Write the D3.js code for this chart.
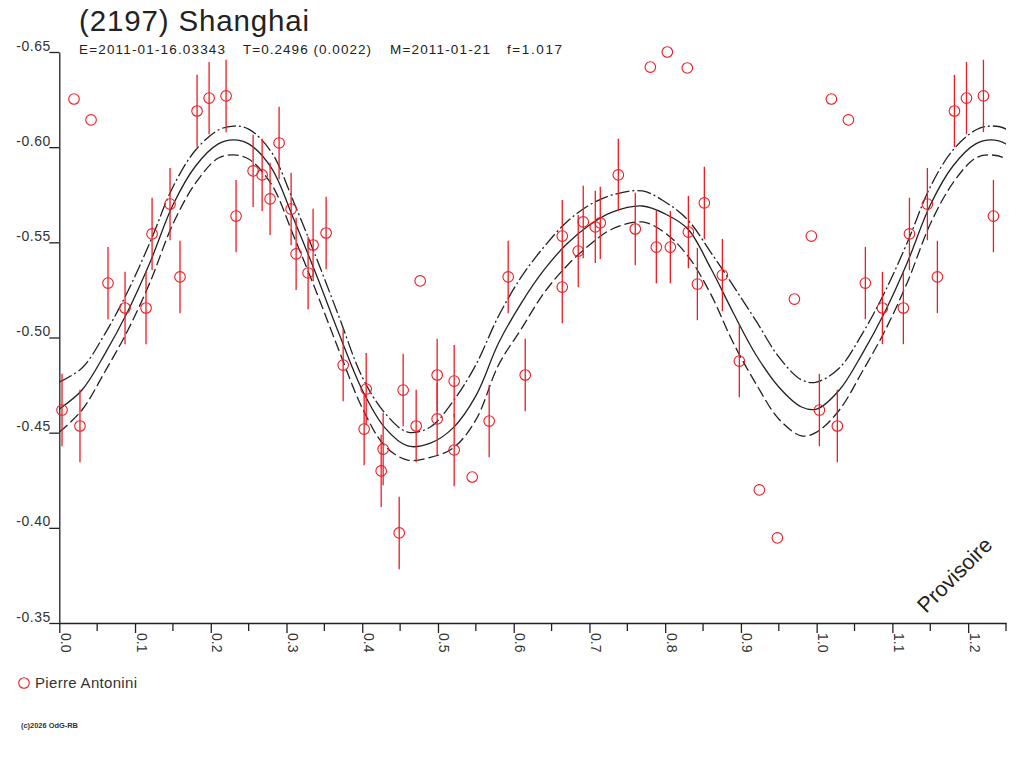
<!DOCTYPE html>
<html>
<head>
<meta charset="utf-8">
<title>(2197) Shanghai</title>
<script src="https://d3js.org/d3.v7.min.js"></script>
<style>
  body { margin: 0; background: #fff; }
  svg { display: block; font-family: "Liberation Sans", Arial, sans-serif; }
</style>
</head>
<body>
<div id="chart"></div>
<script>
// --- data: folded lightcurve (phase, relative magnitude, error) ---
const phase = [0.0036,0.0194,0.0273,0.0419,0.0643,0.0868,0.1145,0.1225,0.1462,0.1594,
  0.1819,0.1978,0.2202,0.2334,0.2559,0.2678,0.2783,0.2902,0.3061,0.3127,
  0.3285,0.3351,0.3523,0.3748,0.4052,0.4025,0.4276,0.4250,0.4488,0.4540,
  0.4712,0.4765,0.4989,0.4989,0.5214,0.5214,0.5452,0.5676,0.5927,0.6152,
  0.6641,0.6641,0.6852,0.6918,0.7077,0.7143,0.7381,0.7605,0.7804,0.8028,
  0.8292,0.7883,0.8068,0.8306,0.8517,0.8425,0.8755,0.8979,0.9243,0.9481,
  0.9706,0.9930];
const mag = [-0.4619,-0.6253,-0.4535,-0.6143,-0.5286,-0.5155,-0.5155,-0.5544,-0.5701,-0.5318,
  -0.6190,-0.6258,-0.6269,-0.5638,-0.5875,-0.5854,-0.5728,-0.6022,-0.5675,-0.5439,
  -0.5339,-0.5486,-0.5549,-0.4855,-0.4729,-0.4519,-0.4414,-0.4299,-0.3973,-0.4724,
  -0.4535,-0.5297,-0.4803,-0.4572,-0.4771,-0.4409,-0.4267,-0.4561,-0.5318,-0.4803,
  -0.5533,-0.5265,-0.5454,-0.5607,-0.5581,-0.5602,-0.5854,-0.5570,-0.6421,-0.6500,
  -0.6416,-0.5475,-0.5475,-0.5554,-0.5707,-0.5281,-0.5328,-0.4876,-0.4199,-0.3947,
  -0.5202,-0.5533];
const err = [0.019,0,0.019,0,0.019,0.019,0.019,0.019,0.019,0.019,
  0.019,0.019,0.019,0.019,0.019,0.019,0.019,0.019,0.019,0.019,
  0.019,0.019,0.019,0.019,0.019,0.019,0.019,0.019,0.019,0.019,
  0.019,0,0.019,0.019,0.019,0.019,0,0.019,0.019,0.019,
  0.019,0.019,0.019,0.019,0.019,0.019,0.019,0.019,0,0,
  0,0.019,0.019,0.019,0.019,0.019,0.019,0.019,0,0,
  0,0];

// --- fitted curve and its two envelopes, read at these phases ---
const fitPhase = [0,0.03,0.06,0.09,0.12,0.15,0.18,0.21,0.23,0.25,0.28,0.31,0.34,0.37,0.40,0.43,0.46,0.49,
  0.52,0.55,0.58,0.61,0.64,0.67,0.70,0.73,0.77,0.80,0.83,0.86,0.89,0.92,0.95,0.98,1.00];
const fitMid = [-0.4624,-0.4724,-0.4913,-0.5134,-0.5397,-0.5696,-0.5901,-0.6017,-0.6038,-0.6017,
  -0.5891,-0.5617,-0.5323,-0.5013,-0.4724,-0.4525,-0.4430,-0.4445,-0.4525,-0.4693,
  -0.4971,-0.5181,-0.5355,-0.5491,-0.5591,-0.5659,-0.5691,-0.5649,-0.5570,-0.5365,
  -0.5129,-0.4908,-0.4740,-0.4635,-0.4624];
const fitHi = [-0.4766,-0.4840,-0.5018,-0.5239,-0.5502,-0.5791,-0.5985,-0.6090,-0.6111,-0.6095,
  -0.5975,-0.5707,-0.5412,-0.5102,-0.4792,-0.4603,-0.4503,-0.4530,-0.4665,-0.4856,
  -0.5113,-0.5318,-0.5476,-0.5607,-0.5696,-0.5749,-0.5770,-0.5712,-0.5617,-0.5449,
  -0.5271,-0.5087,-0.4898,-0.4777,-0.4766];
const fitLo = [-0.4503,-0.4619,-0.4819,-0.5034,-0.5292,-0.5596,-0.5812,-0.5943,-0.5959,-0.5938,
  -0.5806,-0.5528,-0.5234,-0.4924,-0.4630,-0.4430,-0.4356,-0.4370,-0.4419,-0.4567,
  -0.4856,-0.5045,-0.5234,-0.5376,-0.5486,-0.5570,-0.5607,-0.5549,-0.5428,-0.5229,
  -0.4971,-0.4756,-0.4572,-0.4483,-0.4503];

// --- ticks and texts ---
const yTicks = [-0.65,-0.60,-0.55,-0.50,-0.45,-0.40,-0.35];
const xMajor = [0.0,0.1,0.2,0.3,0.4,0.5,0.6,0.7,0.8,0.9,1.0,1.1,1.2];
const xMinor = [0.05,0.15,0.25,0.35,0.45,0.55,0.65,0.75,0.85,0.95,1.05,1.15,1.25];
const title = "(2197) Shanghai";
const headerParts = ["E=2011-01-16.03343", "T=0.2496 (0.0022)", "M=2011-01-21", "f=1.017"];
const observer = "Pierre Antonini";
const copyright = "(c)2026 OdG-RB";

const width = 1024, height = 768;
const red = "#ec1c24", ink = "#222";

const x = d3.scaleLinear().domain([0, 1.25]).range([59.3, 1006]);
const y = d3.scaleLinear().domain([-0.65, -0.35]).range([52, 623]);

const svg = d3.select("#chart").append("svg")
  .attr("width", width).attr("height", height);
svg.append("rect").attr("width", width).attr("height", height).attr("fill", "#fff");

// titre
svg.append("text")
  .attr("x", 79).attr("y", 31)
  .attr("font-size", 29.5).attr("fill", ink)
  .attr("textLength", 230).attr("lengthAdjust", "spacing")
  .text(title);

const headX = [79, 243, 390, 507], headW = [146, 128, 100, 55];
svg.selectAll(".head").data(headerParts).enter().append("text")
  .attr("class", "head")
  .attr("x", (d, i) => headX[i]).attr("y", 54)
  .attr("font-size", 13.5).attr("fill", ink)
  .attr("textLength", (d, i) => headW[i]).attr("lengthAdjust", "spacing")
  .text(d => d);

// axe Y
const gy = svg.append("g")
  .attr("transform", `translate(${x(0)},0)`)
  .call(d3.axisLeft(y).tickValues(yTicks).tickSize(10).tickSizeOuter(0)
    .tickFormat(d => d.toFixed(2)));
gy.select(".domain").attr("stroke", ink).attr("stroke-width", 1.3);
gy.selectAll(".tick line").attr("stroke", ink).attr("stroke-width", 1.3);
gy.selectAll(".tick text")
  .attr("x", -9).attr("y", -2).attr("dy", null)
  .attr("font-size", 14).attr("fill", "#333")
  .attr("textLength", 34).attr("lengthAdjust", "spacing")
  .attr("font-family", "Liberation Sans, Arial, sans-serif");

// axe X
const gx = svg.append("g")
  .attr("transform", `translate(0,${y(-0.35)})`)
  .call(d3.axisBottom(x).tickValues(xMajor).tickSize(10).tickSizeOuter(0)
    .tickFormat(d => d.toFixed(1)));
gx.select(".domain").attr("stroke", ink).attr("stroke-width", 1.3);
gx.selectAll(".tick line").attr("stroke", ink).attr("stroke-width", 1.3);
gx.selectAll(".tick text")
  .attr("x", 0).attr("y", 0).attr("dy", null)
  .attr("text-anchor", "start")
  .attr("transform", "translate(1,10) rotate(90)")
  .attr("font-size", 14).attr("fill", "#333")
  .attr("font-family", "Liberation Sans, Arial, sans-serif");

svg.append("g")
  .attr("transform", `translate(0,${y(-0.35)})`)
  .selectAll("line").data(xMinor).enter().append("line")
  .attr("x1", d => x(d)).attr("x2", d => x(d))
  .attr("y1", 0).attr("y2", 8)
  .attr("stroke", ink).attr("stroke-width", 1.3);

// courbes ajustées (répétées après la phase 1)
svg.append("clipPath").attr("id", "plot-clip")
  .append("rect").attr("x", x(0)).attr("y", 0).attr("width", x(1.25) - x(0)).attr("height", height);

function extend(vals) {
  const pts = fitPhase.map((p, i) => [p, vals[i]]);
  fitPhase.forEach((p, i) => { if (i > 0 && p <= 0.31) pts.push([p + 1, vals[i]]); });
  return pts;
}
const line = d3.line().x(d => x(d[0])).y(d => y(d[1])).curve(d3.curveCatmullRom.alpha(0.5));
const curves = svg.append("g").attr("clip-path", "url(#plot-clip)")
  .attr("fill", "none").attr("stroke", ink).attr("stroke-width", 1.3);
curves.append("path").attr("d", line(extend(fitHi))).attr("stroke-dasharray", "14,3,2,3");
curves.append("path").attr("d", line(extend(fitMid)));
curves.append("path").attr("d", line(extend(fitLo))).attr("stroke-dasharray", "11,4");

// points (les phases < 0.25 sont répétées à phase + 1)
const pts = [];
phase.forEach((p, i) => {
  pts.push({ p: p, m: mag[i], e: err[i] });
  if (p + 1 <= 1.25) pts.push({ p: p + 1, m: mag[i], e: err[i] });
});

svg.append("g").selectAll("line").data(pts.filter(d => d.e > 0)).enter().append("line")
  .attr("x1", d => x(d.p)).attr("x2", d => x(d.p))
  .attr("y1", d => y(d.m - d.e)).attr("y2", d => y(d.m + d.e))
  .attr("stroke", red).attr("stroke-width", 1.3);

svg.append("g").selectAll("circle").data(pts).enter().append("circle")
  .attr("cx", d => x(d.p)).attr("cy", d => y(d.m)).attr("r", 5.3)
  .attr("fill", "none").attr("stroke", red).attr("stroke-width", 1.1);

// légende
svg.append("circle").attr("cx", 24).attr("cy", 683).attr("r", 5.3)
  .attr("fill", "none").attr("stroke", red).attr("stroke-width", 1.1);
svg.append("text").attr("x", 35).attr("y", 688)
  .attr("font-size", 15).attr("fill", "#333")
  .attr("textLength", 102).attr("lengthAdjust", "spacing")
  .text(observer);

svg.append("text").attr("x", 21).attr("y", 728)
  .attr("font-size", 7).attr("font-weight", "bold").attr("fill", "#333")
  .attr("textLength", 57).attr("lengthAdjust", "spacingAndGlyphs")
  .text(copyright);

svg.append("text")
  .attr("transform", "translate(926,614) rotate(-45)")
  .attr("font-size", 21.5).attr("fill", ink)
  .text("Provisoire");
</script>
</body>
</html>
